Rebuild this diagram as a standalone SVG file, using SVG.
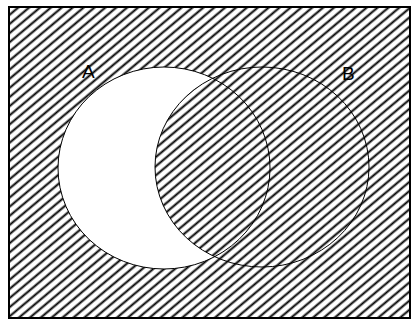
<svg xmlns="http://www.w3.org/2000/svg" width="411" height="320" viewBox="0 0 411 320">
  <defs>
    <pattern id="hatch" patternUnits="userSpaceOnUse" width="7" height="7" patternTransform="rotate(-40)">
      <rect x="0" y="0" width="7" height="7" fill="#fff"/>
      <line x1="-1" y1="3.5" x2="8" y2="3.5" stroke="#000" stroke-width="2"/>
    </pattern>
  </defs>
  <style>
    .set { fill: none; stroke: #000; stroke-width: 1; }
    .lbl { font-family: "Liberation Sans", Arial, sans-serif; font-size: 19px; fill: #000; }
  </style>
  <rect x="0" y="0" width="411" height="320" fill="#fff"/>
  <g id="universe">
    <rect x="9" y="7" width="401" height="311" fill="url(#hatch)" stroke="#000" stroke-width="2"/>
  </g>
  <g id="setA">
    <ellipse cx="164" cy="168" rx="106" ry="101" fill="#fff"/>
  </g>
  <g id="setB">
    <ellipse cx="262" cy="167" rx="107" ry="100" fill="url(#hatch)"/>
  </g>
  <g id="outlines">
    <ellipse class="set" cx="164" cy="168" rx="106" ry="101"/>
    <ellipse class="set" cx="262" cy="167" rx="107" ry="100"/>
  </g>
  <text class="lbl" x="82" y="78">A</text>
  <text class="lbl" x="342" y="80">B</text>
</svg>
